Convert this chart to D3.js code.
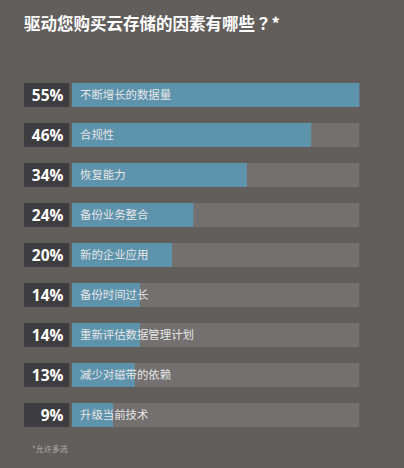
<!DOCTYPE html>
<html><head><meta charset="utf-8">
<script src="https://cdn.jsdelivr.net/npm/d3@7/dist/d3.min.js"></script>
<style>
html,body{margin:0;padding:0;background:#625e5c;}
svg{display:block;}
</style></head>
<body>
<svg id="chart" width="404" height="468"></svg>
<script>
const title = "驱动您购买云存储的因素有哪些？*";
const categories = ["不断增长的数据量","合规性","恢复能力","备份业务整合","新的企业应用","备份时间过长","重新评估数据管理计划","减少对磁带的依赖","升级当前技术"];
const values = [55,46,34,24,20,14,14,13,9];
const valueLabels = ["55%","46%","34%","24%","20%","14%","14%","13%","9%"];
const footnote = "*允许多选";

const svg = d3.select("#chart");
svg.append("rect").attr("width",404).attr("height",468).attr("fill","#625e5c");

svg.append("text").attr("x",24).attr("y",30)
  .attr("font-family","'Noto Sans CJK TC', 'Noto Sans CJK SC', sans-serif")
  .attr("font-weight","bold").attr("font-size",16.5)
  .attr("fill","#ffffff").text(title);

const y = d3.scaleBand().domain(categories).range([75,435]).paddingInner(0.4).paddingOuter(0.2);
const x = d3.scaleLinear().domain([0,55]).range([65,359.3]);
const trackX = 72;

const rows = svg.selectAll("g.row").data(categories).join("g").attr("class","row")
  .attr("transform",d=>`translate(0,${y(d)})`);
const bh = y.bandwidth();

rows.append("rect").attr("x",24).attr("width",45.3).attr("height",bh).attr("fill","#3d3c3e");
rows.append("rect").attr("x",trackX).attr("width",x(55)-trackX).attr("height",bh).attr("fill","#747070");
rows.append("rect").attr("x",trackX).attr("width",(d,i)=>x(values[i])-trackX).attr("height",bh).attr("fill","#5e93ac");
rows.append("text").attr("x",63.5).attr("y",bh/2).attr("dy","0.36em")
  .attr("text-anchor","end").attr("font-family","'Open Sans', sans-serif")
  .attr("font-weight","bold").attr("font-size",15.5).attr("fill","#ffffff")
  .text((d,i)=>valueLabels[i]);
rows.append("text").attr("x",80).attr("y",bh/2).attr("dy","0.36em")
  .attr("font-family","'Noto Sans CJK SC', sans-serif")
  .attr("font-size",11.4).attr("fill","#e6e6e6")
  .text(d=>d);

svg.append("text").attr("x",32).attr("y",452)
  .attr("font-family","'Noto Sans CJK SC', sans-serif")
  .attr("font-size",8).attr("fill","#b0acab").text(footnote);
</script>
</body></html>
